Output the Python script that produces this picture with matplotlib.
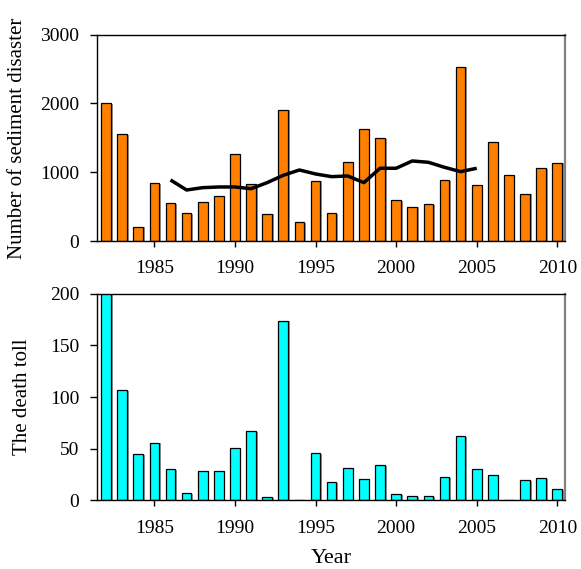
import matplotlib
matplotlib.use("Agg")
import matplotlib.pyplot as plt
import matplotlib.patheffects as pe

years = list(range(1982, 2011))

# Annual number of sediment disasters
disasters = [2000, 1560, 210, 840, 553, 412, 568, 650, 1266, 834,
             398, 1912, 272, 878, 403, 1150, 1626, 1499, 597, 500,
             534, 892, 2537, 811, 1437, 961, 689, 1058, 1140]

# Smoothed trend of disaster counts
trend_years = list(range(1986, 2006))
trend = [888, 742, 776, 786, 786, 761, 849, 956, 1033, 975,
         936, 946, 849, 1058, 1058, 1164, 1145, 1072, 1009, 1058]

# Annual death toll
deaths = [250, 107, 45, 56, 30, 7, 29, 29, 51, 67,
          3, 174, 0, 46, 18, 31, 21, 34, 6, 4,
          4, 23, 62, 30, 25, 0, 20, 22, 11]

top_yticks = [0, 1000, 2000, 3000]
bottom_yticks = [0, 50, 100, 150, 200]
xticks = [1985, 1990, 1995, 2000, 2005, 2010]

plt.rcParams["font.family"] = ["Liberation Serif", "DejaVu Serif"]

fig = plt.figure(figsize=(5.81, 5.69), dpi=100)
ax1 = fig.add_axes([0.1675, 0.5764, 0.805, 0.3626])
ax2 = fig.add_axes([0.1675, 0.1204, 0.805, 0.3634])

shadow = [pe.SimplePatchShadow(offset=(1.2, -0.6), shadow_rgbFace="#808080", alpha=0.8),
          pe.Normal()]


def style_axes(ax):
    for side in ("left", "top", "bottom"):
        ax.spines[side].set_color("black")
        ax.spines[side].set_linewidth(1.0)
    ax.spines["right"].set_color("#808080")
    ax.spines["right"].set_linewidth(1.6)
    ax.tick_params(axis="y", direction="out", length=5, width=1, labelsize=14, pad=8)
    ax.tick_params(axis="x", direction="out", length=4, width=1, labelsize=14, pad=10)
    ax.set_xlim(1981.46, 2010.48)
    ax.set_xticks(xticks)
    ax.set_xticklabels([str(x) for x in xticks])


bars1 = ax1.bar(years, disasters, width=0.6, color="#FF8000",
                edgecolor="black", linewidth=0.9, zorder=2)
for b in bars1:
    b.set_path_effects(shadow)
ax1.plot(trend_years, trend, color="black", linewidth=2.5, zorder=3,
         solid_joinstyle="round", solid_capstyle="butt")
ax1.set_ylim(0, 3000)
ax1.set_yticks(top_yticks)
ax1.set_ylabel("Number of sediment disaster", fontsize=15)
ax1.yaxis.set_label_coords(-0.150, 0.5)
style_axes(ax1)

bars2 = ax2.bar(years, deaths, width=0.6, color="#00FFFF",
                edgecolor="black", linewidth=0.9, zorder=2)
for b in bars2:
    b.set_path_effects(shadow)
ax2.set_ylim(0, 200)
ax2.set_yticks(bottom_yticks)
ax2.set_ylabel("The death toll", fontsize=15)
ax2.yaxis.set_label_coords(-0.140, 0.5)
ax2.set_xlabel("Year", fontsize=16, labelpad=9)
style_axes(ax2)

fig.savefig("out.png", dpi=100)
